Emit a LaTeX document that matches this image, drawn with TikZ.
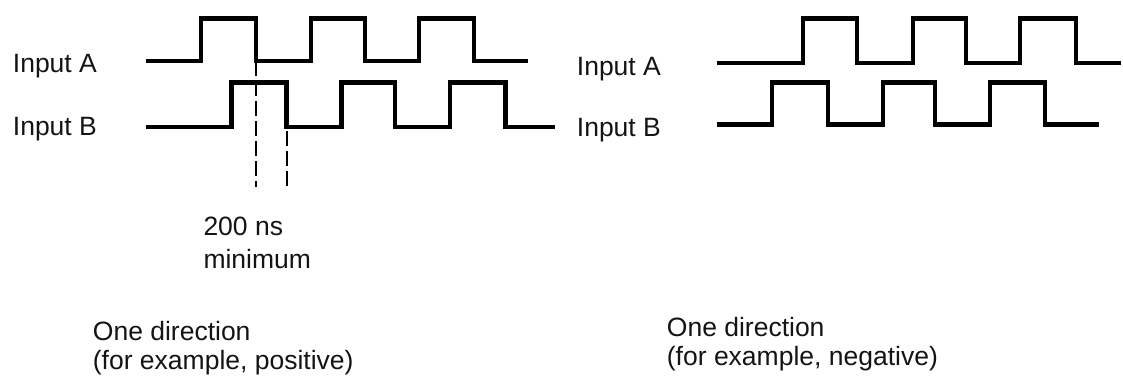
\documentclass[tikz,border=0pt]{standalone}
\usepackage{fontspec}
\setmainfont{Liberation Sans}
\definecolor{traceink}{RGB}{0,0,0}
\definecolor{textink}{RGB}{20,20,20}
\newcommand{\labelfont}{\fontsize{26.5}{33}\selectfont}
\newcommand{\notefont}{\fontsize{26.5}{29}\selectfont}
\newcommand{\chanlabel}[3]{\node[anchor=base west,inner sep=0pt,font=\labelfont,text=textink] (#1) at #2 {#3};}
\newcommand{\wavetrace}[1]{\draw[traceink,line width=4.2pt] #1;}
\newcommand{\edgemark}[2]{\draw[traceink,line width=2pt,dash pattern=on 15pt off 5pt] #1 -- #2;}

\begin{document}
\begin{tikzpicture}[x=1pt,y=-1pt]
		\useasboundingbox (0,0) rectangle (1123,375);
		% left: one direction
		\chanlabel{inaleft}{(12.7,72.3)}{Input A}
		\chanlabel{inbleft}{(12.7,135)}{Input B}
		\wavetrace{(146,61) -| (201,18.5) -| (256,61) -| (311,18.5) -| (365,61) -| (419,18.5) -| (474,61) -- (528,61)}
		\wavetrace{(146,127) -| (231.5,82.5) -| (286.5,127) -| (341.5,82.5) -| (395,127) -| (450,82.5) -| (505.5,127) -- (555,127)}
		\edgemark{(256,61)}{(256,187)}
		\edgemark{(286.5,131)}{(286.5,187)}
		\node[anchor=north west,inner sep=0pt,align=left,font=\labelfont,text=textink] (mingap) at (203.3,216.5) {200 ns\\minimum};
		\node[anchor=north west,inner sep=0pt,align=left,font=\notefont,text=textink] (dirpos) at (92.7,321) {One direction\\(for example, positive)};
		% right: other direction
		\chanlabel{inaright}{(576.7,75)}{Input A}
		\chanlabel{inbright}{(576.7,136.7)}{Input B}
		\wavetrace{(716.7,63) -| (802.7,18.5) -| (857.3,63) -| (912.7,18.5) -| (965.7,63) -| (1020,18.5) -| (1076,63) -- (1121,63)}
		\wavetrace{(716.7,124.5) -| (771.7,82.5) -| (827.7,124.5) -| (882.7,82.5) -| (935,124.5) -| (990,82.5) -| (1045,124.5) -- (1099,124.5)}
		\node[anchor=north west,inner sep=0pt,align=left,font=\notefont,text=textink] (dirneg) at (666.7,317.5) {One direction\\(for example, negative)};
\end{tikzpicture}
\end{document}
